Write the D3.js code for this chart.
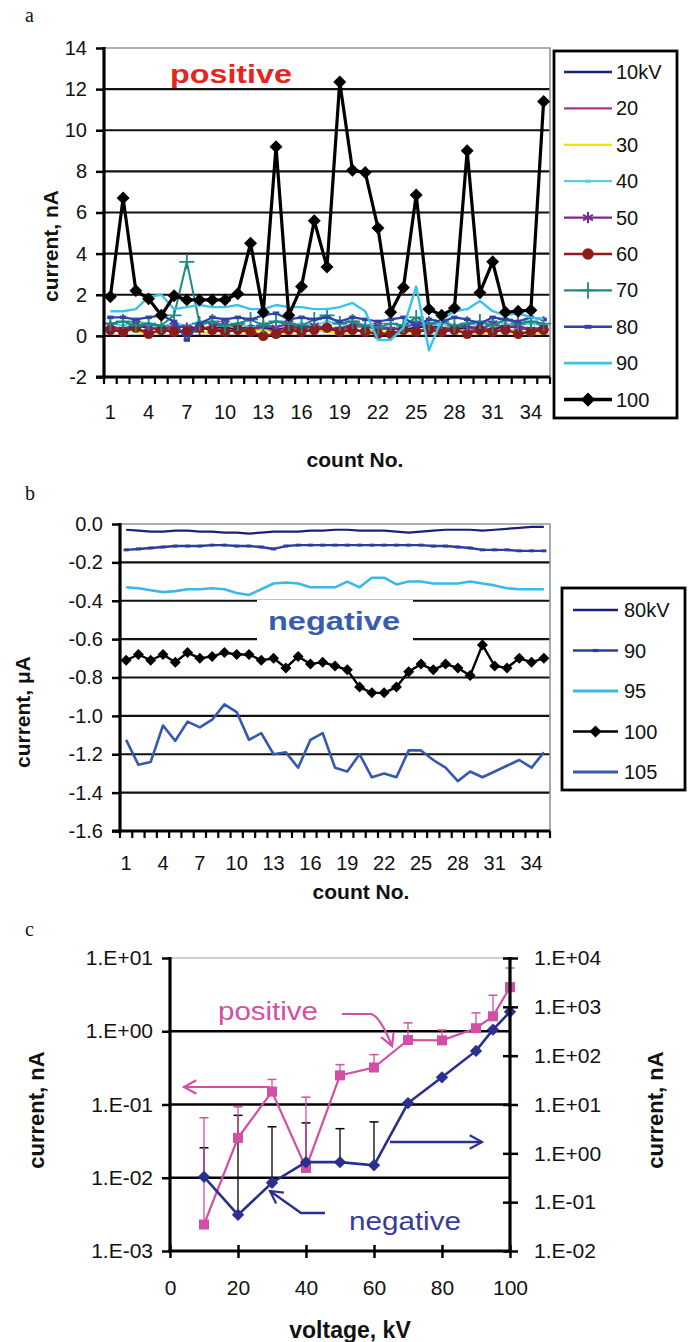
<!DOCTYPE html>
<html><head><meta charset="utf-8">
<script src="https://cdn.jsdelivr.net/npm/d3@7"></script>
<style>
body{margin:0;background:#fff}
svg{display:block}
text{font-family:"Liberation Sans",Arial,Helvetica,sans-serif}
</style>
</head><body>
<svg width="692" height="1342"></svg>
<script>
// ---------------- DATA ----------------
const counts = [1,2,3,4,5,6,7,8,9,10,11,12,13,14,15,16,17,18,19,20,21,22,23,24,25,26,27,28,29,30,31,32,33,34,35];
const countTickLabels = [1,4,7,10,13,16,19,22,25,28,31,34];

// panel a (positive)
const aYTicks = [-2,0,2,4,6,8,10,12,14];
const aNames = ["10kV","20","30","40","50","60","70","80","90","100"];
const a10  = [0.4,0.3,0.5,0.4,0.3,0.4,0.5,0.3,0.4,0.4,0.3,0.5,0.4,0.3,0.4,0.5,0.4,0.3,0.4,0.4,0.5,0.3,0.4,0.3,0.4,0.5,0.4,0.3,0.4,0.4,0.3,0.5,0.4,0.3,0.4];
const a20  = [0.3,0.4,0.2,0.3,0.4,0.3,0.2,0.4,0.3,0.3,0.2,0.4,0.3,0.2,0.4,0.3,0.3,0.2,0.4,0.3,0.2,0.3,0.4,0.3,0.2,0.4,0.3,0.3,0.2,0.4,0.3,0.2,0.3,0.4,0.3];
const a30  = [0.2,0.3,0.2,0.1,0.2,0.3,0.2,0.2,0.1,0.3,0.2,0.2,0.3,0.1,0.2,0.2,0.3,0.2,0.1,0.2,0.3,0.2,0.2,0.1,0.3,0.2,0.2,0.3,0.2,0.1,0.2,0.3,0.2,0.2,0.1];
const a40  = [0.6,0.5,0.7,0.6,0.4,0.6,0.5,0.7,0.6,0.5,0.6,0.4,0.6,0.7,0.5,0.6,0.5,0.7,0.6,0.4,0.5,0.6,0.3,0.5,0.7,0.5,0.6,0.4,0.6,0.5,0.7,0.6,0.5,0.6,0.5];
const a50  = [0.5,0.3,0.6,0.4,0.3,0.5,0.4,0.3,0.5,0.6,0.4,0.3,0.5,0.4,0.6,0.3,0.5,0.4,0.3,0.6,0.4,0.5,0.3,0.4,0.6,0.5,0.3,0.4,0.5,0.3,0.6,0.4,0.5,0.3,0.4];
const a60  = [0.3,0.2,0.4,0.1,0.3,0.2,0.2,0.4,0.3,0.2,0.3,0.2,0.0,0.1,0.3,0.2,0.3,0.4,0.2,0.3,0.2,0.1,0.1,0.3,0.2,0.3,0.2,0.3,0.1,0.3,0.2,0.3,0.1,0.2,0.3];
const a70  = [0.6,0.7,0.5,0.6,0.5,1.0,3.6,0.6,0.7,0.5,0.6,0.8,0.5,0.7,0.6,0.5,0.8,1.0,0.6,0.7,0.5,0.4,0.6,0.5,0.9,0.6,0.7,0.5,0.6,0.7,0.5,0.8,0.6,0.7,0.6];
const a80  = [0.9,0.9,0.8,0.9,1.0,0.7,-0.2,0.6,0.9,0.8,0.9,0.8,1.0,1.1,0.8,0.9,0.8,0.9,0.7,0.9,0.8,0.7,0.8,0.9,0.5,0.8,0.7,0.9,0.8,0.6,0.9,0.8,0.7,0.9,0.8];
const a90  = [1.2,1.2,1.3,1.9,2.0,1.3,1.4,1.5,1.4,1.4,1.5,1.3,1.3,1.5,1.4,1.4,1.3,1.3,1.4,1.6,1.2,-0.2,-0.2,0.4,2.4,-0.7,0.8,1.2,1.3,1.7,1.2,1.0,1.1,0.9,0.8];
const a100 = [1.9,6.7,2.2,1.8,1.0,1.95,1.75,1.75,1.75,1.75,2.05,4.5,1.15,9.2,1.0,2.4,5.6,3.35,12.35,8.05,7.95,5.25,1.15,2.35,6.85,1.3,1.0,1.35,9.0,2.1,3.6,1.15,1.2,1.25,11.4];

// panel b (negative)
const bYTicks = [0,-0.2,-0.4,-0.6,-0.8,-1.0,-1.2,-1.4,-1.6];
const bNames = ["80kV","90","95","100","105"];
const b80  = [-0.03,-0.035,-0.04,-0.04,-0.035,-0.035,-0.04,-0.04,-0.045,-0.045,-0.05,-0.045,-0.04,-0.04,-0.04,-0.035,-0.035,-0.03,-0.03,-0.035,-0.035,-0.035,-0.04,-0.045,-0.04,-0.035,-0.03,-0.03,-0.03,-0.035,-0.03,-0.025,-0.02,-0.015,-0.015];
const b90  = [-0.135,-0.13,-0.125,-0.12,-0.115,-0.115,-0.115,-0.11,-0.11,-0.115,-0.115,-0.12,-0.13,-0.115,-0.11,-0.11,-0.11,-0.11,-0.11,-0.11,-0.11,-0.11,-0.11,-0.11,-0.11,-0.115,-0.115,-0.12,-0.125,-0.135,-0.135,-0.135,-0.14,-0.14,-0.14];
const b95  = [-0.33,-0.335,-0.345,-0.355,-0.35,-0.34,-0.34,-0.335,-0.34,-0.36,-0.37,-0.34,-0.31,-0.305,-0.31,-0.33,-0.33,-0.33,-0.30,-0.33,-0.28,-0.28,-0.315,-0.30,-0.30,-0.31,-0.31,-0.31,-0.30,-0.31,-0.32,-0.335,-0.34,-0.34,-0.34];
const b100 = [-0.71,-0.68,-0.71,-0.68,-0.72,-0.67,-0.70,-0.69,-0.67,-0.68,-0.68,-0.71,-0.70,-0.75,-0.69,-0.73,-0.72,-0.74,-0.76,-0.85,-0.88,-0.88,-0.85,-0.77,-0.73,-0.76,-0.73,-0.75,-0.79,-0.63,-0.74,-0.75,-0.70,-0.72,-0.70];
const b105 = [-1.125,-1.255,-1.24,-1.05,-1.13,-1.03,-1.06,-1.02,-0.94,-0.98,-1.125,-1.09,-1.2,-1.19,-1.27,-1.125,-1.09,-1.27,-1.29,-1.2,-1.32,-1.30,-1.32,-1.18,-1.18,-1.23,-1.27,-1.34,-1.29,-1.32,-1.29,-1.26,-1.23,-1.27,-1.19];

// panel c (current vs voltage)
const cVoltage = [10,20,30,40,50,60,70,80,90,95,100];
const cXTicks = [0,20,40,60,80,100];
const cLeftTicks = [1e-3,1e-2,1e-1,1e0,1e1];
const cRightTicks = [1e-2,1e-1,1e0,1e1,1e2,1e3,1e4];
const cPositive    = [0.0023,0.035,0.15,0.0136,0.25,0.32,0.76,0.75,1.1,1.6,4.0];
const cPositiveErr = [0.066,0.093,0.22,0.126,0.35,0.48,1.3,1.04,1.78,3.1,7.3];
const cNegative    = [0.33,0.055,0.25,0.66,0.66,0.57,10.7,36,125,340,790];
const cNegativeErr = [1.3,6,3.5,4.2,3.2,4.4,null,null,null,null,null];

// ---------------- DRAW ----------------
const svg = d3.select("svg");
const tickFont = 20;

function marker(g, type, x, y, color, scale) {
  const s = scale || 1;
  if (!type) return;
  if (type === "diamond") {
    g.append("path").attr("d", d3.symbol(d3.symbolSquare, 84 * s * s)())
      .attr("transform", `translate(${x},${y}) rotate(45)`).attr("fill", color);
  } else if (type === "circle") {
    g.append("circle").attr("cx", x).attr("cy", y).attr("r", 5.2 * s).attr("fill", color);
  } else if (type === "asterisk") {
    const sym = d3.symbolAsterisk || d3.symbolCross;
    g.append("path").attr("d", d3.symbol(sym, 75 * s * s)())
      .attr("transform", `translate(${x},${y})`).attr("fill", "none").attr("stroke", color).attr("stroke-width", 2);
  } else if (type === "plus") {
    const sym = d3.symbolPlus || d3.symbolCross;
    g.append("path").attr("d", d3.symbol(sym, 75 * s * s)())
      .attr("transform", `translate(${x},${y})`).attr("fill", "none").attr("stroke", color).attr("stroke-width", 1.8);
  } else if (type === "dash") {
    g.append("rect").attr("x", x - 3.2 * s).attr("y", y - 1.8 * s).attr("width", 6.4 * s).attr("height", 3.6 * s).attr("fill", color);
  } else if (type === "square") {
    g.append("rect").attr("x", x - 5 * s).attr("y", y - 5 * s).attr("width", 10 * s).attr("height", 10 * s).attr("fill", color);
  }
}

function categoryPanel(opt) {
  const g = svg.append("g");
  const x = d3.scaleBand().domain(counts).range([opt.left, opt.right]);
  const y = d3.scaleLinear().domain(opt.yDomain).range([opt.bottom, opt.top]);
  const cx = c => x(c) + x.bandwidth() / 2;
  opt.yTicks.forEach(v => {
    if (v === opt.yDomain[0] || v === opt.yDomain[1]) return;
    g.append("line").attr("x1", opt.left).attr("x2", opt.right).attr("y1", y(v)).attr("y2", y(v))
      .attr("stroke", "#111").attr("stroke-width", 2.2);
  });
  g.append("path").attr("d", `M${opt.left},${y(opt.yDomain[1])}H${opt.right}V${opt.bottom}`)
    .attr("fill", "none").attr("stroke", "#8c9696").attr("stroke-width", 1.6);
  opt.extraBack && opt.extraBack(g, x, y);
  opt.series.forEach(s => {
    const line = d3.line().x((d, i) => cx(counts[i])).y(d => y(d));
    g.append("path").attr("d", line(s.values)).attr("fill", "none")
      .attr("stroke", s.color).attr("stroke-width", s.width).attr("stroke-linejoin", "round");
    if (s.marker) s.values.forEach((v, i) => marker(g, s.marker, cx(counts[i]), y(v), s.color, s.mscale));
  });
  const ya = d3.axisLeft(y).tickValues(opt.yTicks).tickSize(8).tickPadding(9).tickFormat(opt.yFormat);
  const yg = g.append("g").attr("transform", `translate(${opt.left},0)`).call(ya);
  yg.select(".domain").remove();
  yg.selectAll(".tick line").attr("stroke", "#000").attr("stroke-width", 2.5);
  yg.selectAll(".tick text").attr("font-size", tickFont).attr("fill", "#111").attr("font-family", "Liberation Sans, Arial");
  g.append("line").attr("x1", opt.left).attr("x2", opt.left).attr("y1", opt.top - 1).attr("y2", opt.bottom + 1.5)
    .attr("stroke", "#000").attr("stroke-width", 3.2);
  g.append("line").attr("x1", opt.left - 8).attr("x2", opt.right).attr("y1", opt.bottom).attr("y2", opt.bottom)
    .attr("stroke", "#000").attr("stroke-width", 3.2);
  counts.forEach(c => {
    g.append("line").attr("x1", x(c)).attr("x2", x(c)).attr("y1", opt.bottom).attr("y2", opt.bottom + 7)
      .attr("stroke", "#000").attr("stroke-width", 2.2);
  });
  g.append("line").attr("x1", opt.right).attr("x2", opt.right).attr("y1", opt.bottom).attr("y2", opt.bottom + 7)
    .attr("stroke", "#000").attr("stroke-width", 2.2);
  const xa = d3.axisBottom(x).tickValues(countTickLabels).tickSize(0).tickPadding(0);
  const xg = g.append("g").attr("transform", `translate(0,${opt.xLabelY})`).call(xa);
  xg.select(".domain").remove();
  xg.selectAll(".tick text").attr("font-size", tickFont).attr("fill", "#111").attr("dy", "0").attr("y", 0)
    .attr("dominant-baseline", "central").attr("font-family", "Liberation Sans, Arial");
  g.append("text").attr("x", opt.xTitle[0]).attr("y", opt.xTitle[1]).attr("text-anchor", "middle")
    .attr("font-size", 21).attr("font-weight", "bold").attr("fill", "#111").text("count No.");
  g.append("text").attr("transform", `translate(${opt.yTitle[0]},${opt.yTitle[1]}) rotate(-90)`)
    .attr("text-anchor", "middle").attr("dominant-baseline", "central")
    .attr("font-size", 21).attr("font-weight", "bold").attr("fill", "#111").text(opt.yTitleText);
  const L = opt.legend;
  g.append("rect").attr("x", L.x).attr("y", L.y).attr("width", L.w).attr("height", L.h)
    .attr("fill", "#fff").attr("stroke", "#000").attr("stroke-width", 2.8);
  opt.series.forEach((s, i) => {
    const yy = L.first + i * L.step;
    g.append("line").attr("x1", L.x1).attr("x2", L.x2).attr("y1", yy).attr("y2", yy)
      .attr("stroke", s.color).attr("stroke-width", s.width + 0.3);
    if (s.marker) marker(g, s.marker, (L.x1 + L.x2) / 2, yy, s.color, (s.mscale || 1) * 1.1);
    g.append("text").attr("x", L.tx).attr("y", yy).attr("dominant-baseline", "central")
      .attr("font-size", tickFont).attr("fill", "#111").text(s.name);
  });
  return {g, x, y};
}

// ---- panel a ----
svg.append("text").attr("x", 25).attr("y", 22).attr("font-size", 20).attr("fill", "#111")
  .style("font-family", "'Liberation Serif',serif").text("a");
const aStyle = [
  {color:"#1b1f7a", width:2.2},
  {color:"#a23a8c", width:2},
  {color:"#f0e400", width:2},
  {color:"#62cde0", width:2, marker:"dash", mscale:0.8},
  {color:"#7a2a8e", width:2, marker:"asterisk"},
  {color:"#8c1c1c", width:2.4, marker:"circle"},
  {color:"#1f8a80", width:2, marker:"plus"},
  {color:"#2f44a8", width:2.2, marker:"dash"},
  {color:"#3cc2ee", width:2.4},
  {color:"#000000", width:3.2, marker:"diamond"}
];
const aValues = [a10,a20,a30,a40,a50,a60,a70,a80,a90,a100];
categoryPanel({
  left:104, right:550, top:48, bottom:377, yDomain:[-2,14], yTicks:aYTicks,
  yFormat: d => String(d), xLabelY:412, xTitle:[355,467], yTitle:[50,246], yTitleText:"current, nA",
  series: aNames.map((n,i) => Object.assign({name:n, values:aValues[i]}, aStyle[i])),
  legend:{x:554, y:51, w:123, h:367, first:72, step:36.4, x1:564, x2:612, tx:616},
  extraBack: (g) => {
    g.append("text").attr("x", 170).attr("y", 83).attr("font-size", 26).attr("font-weight", "bold")
      .attr("fill", "#e5261e").attr("textLength", 122).attr("lengthAdjust", "spacingAndGlyphs").text("positive");
  }
});

// ---- panel b ----
svg.append("text").attr("x", 25).attr("y", 500).attr("font-size", 20).attr("fill", "#111")
  .style("font-family", "'Liberation Serif',serif").text("b");
const bStyle = [
  {color:"#1b1f7a", width:2.2},
  {color:"#2c3e9c", width:2.4, marker:"dash", mscale:0.8},
  {color:"#3ab8ea", width:2.6},
  {color:"#000000", width:2.4, marker:"diamond", mscale:0.85},
  {color:"#3559b0", width:2.6}
];
const bValues = [b80,b90,b95,b100,b105];
categoryPanel({
  left:120, right:550, top:524, bottom:831, yDomain:[-1.6,0], yTicks:bYTicks,
  yFormat: d => d.toFixed(1), xLabelY:863, xTitle:[361,899], yTitle:[22,712], yTitleText:"current, \u03bcA",
  series: bNames.map((n,i) => Object.assign({name:n, values:bValues[i]}, bStyle[i])),
  legend:{x:562, y:588, w:123, h:202, first:610, step:40.5, x1:573, x2:618, tx:624},
  extraBack: (g) => {
    g.append("rect").attr("x", 257).attr("y", 600).attr("width", 156).attr("height", 44).attr("fill", "#fff");
    g.append("text").attr("x", 268).attr("y", 630).attr("font-size", 26).attr("font-weight", "bold")
      .attr("fill", "#3a5cb0").attr("textLength", 132).attr("lengthAdjust", "spacingAndGlyphs").text("negative");
  }
});

// ---- panel c ----
svg.append("text").attr("x", 25).attr("y", 936).attr("font-size", 20).attr("fill", "#111")
  .style("font-family", "'Liberation Serif',serif").text("c");
const cg = svg.append("g");
const cx = d3.scaleLinear().domain([0,100]).range([170,510]);
const cyL = d3.scaleLog().domain([1e-3,1e1]).range([1251,958]);
const cyR = d3.scaleLog().domain([1e-2,1e4]).range([1251,958]);
const expFmt = v => { const e = Math.round(Math.log10(v)); return "1.E" + (e < 0 ? "-" : "+") + String(Math.abs(e)).padStart(2, "0"); };
const pink = "#d24fa5", navy = "#2b2f8e";

[1e-2,1e-1,1e0].forEach(v => {
  cg.append("line").attr("x1", 170).attr("x2", 510).attr("y1", cyL(v)).attr("y2", cyL(v))
    .attr("stroke", "#000").attr("stroke-width", 2.6);
});
cg.append("line").attr("x1", 170).attr("x2", 510).attr("y1", cyL(1e1)).attr("y2", cyL(1e1))
  .attr("stroke", "#9aa0a0").attr("stroke-width", 1.2);

function errBars(vals, errs, scale, color) {
  vals.forEach((v, i) => {
    if (errs[i] == null) return;
    const xx = cx(cVoltage[i]);
    cg.append("line").attr("x1", xx).attr("x2", xx).attr("y1", scale(v)).attr("y2", scale(errs[i]))
      .attr("stroke", color).attr("stroke-width", 1.3);
    cg.append("line").attr("x1", xx - 4.5).attr("x2", xx + 4.5).attr("y1", scale(errs[i])).attr("y2", scale(errs[i]))
      .attr("stroke", color).attr("stroke-width", 1.5);
  });
}
errBars(cNegative, cNegativeErr, cyR, "#000");
errBars(cPositive, cPositiveErr, cyL, pink);

const posLine = d3.line().x((d,i) => cx(cVoltage[i])).y(d => cyL(d));
cg.append("path").attr("d", posLine(cPositive)).attr("fill", "none").attr("stroke", pink).attr("stroke-width", 2.2);
cPositive.forEach((v,i) => marker(cg, "square", cx(cVoltage[i]), cyL(v), pink, 1));
const negLine = d3.line().x((d,i) => cx(cVoltage[i])).y(d => cyR(d));
cg.append("path").attr("d", negLine(cNegative)).attr("fill", "none").attr("stroke", navy).attr("stroke-width", 2.6);
cNegative.forEach((v,i) => marker(cg, "diamond", cx(cVoltage[i]), cyR(v), navy, 0.95));

function arrowHead(g, x, y, angle, color) {
  const len = 14, spread = 0.5;
  const p1 = [x - len * Math.cos(angle - spread), y - len * Math.sin(angle - spread)];
  const p2 = [x - len * Math.cos(angle + spread), y - len * Math.sin(angle + spread)];
  g.append("path").attr("d", `M${p1[0]},${p1[1]}L${x},${y}L${p2[0]},${p2[1]}`)
    .attr("fill", "none").attr("stroke", color).attr("stroke-width", 2.2);
}
cg.append("text").attr("x", 218).attr("y", 1020).attr("font-size", 25).attr("fill", pink)
  .attr("textLength", 100).attr("lengthAdjust", "spacingAndGlyphs").text("positive");
cg.append("path").attr("d", "M342,1014H371Q380,1016 392,1046").attr("fill", "none").attr("stroke", pink).attr("stroke-width", 2.2);
arrowHead(cg, 392, 1046, Math.atan2(30, 12), pink);
cg.append("path").attr("d", "M270,1087H184").attr("fill", "none").attr("stroke", pink).attr("stroke-width", 2.2);
arrowHead(cg, 184, 1087, Math.PI, pink);
cg.append("path").attr("d", "M390,1142H482").attr("fill", "none").attr("stroke", navy).attr("stroke-width", 2.4);
arrowHead(cg, 482, 1142, 0, navy);
cg.append("path").attr("d", "M325,1213H301L270,1191").attr("fill", "none").attr("stroke", navy).attr("stroke-width", 2.4);
arrowHead(cg, 270, 1191, Math.atan2(-22, -31), navy);
cg.append("text").attr("x", 349).attr("y", 1230).attr("font-size", 25).attr("fill", "#373c98")
  .attr("textLength", 112).attr("lengthAdjust", "spacingAndGlyphs").text("negative");

const la = d3.axisLeft(cyL).tickValues(cLeftTicks).tickSize(8).tickPadding(9).tickFormat(expFmt);
const lg = cg.append("g").attr("transform", "translate(170,0)").call(la);
lg.select(".domain").remove();
lg.selectAll(".tick line").attr("stroke", "#000").attr("stroke-width", 2.5);
lg.selectAll(".tick text").attr("font-size", 21).attr("fill", "#111").attr("font-family", "Liberation Sans, Arial");
const ra = d3.axisRight(cyR).tickValues(cRightTicks).tickSize(8).tickPadding(16).tickFormat(expFmt);
const rg = cg.append("g").attr("transform", "translate(510,0)").call(ra);
rg.select(".domain").remove();
rg.selectAll(".tick line").attr("stroke", "#000").attr("stroke-width", 2.5).attr("x1", -7);
rg.selectAll(".tick text").attr("font-size", 21).attr("fill", "#111").attr("font-family", "Liberation Sans, Arial");
const ba = d3.axisBottom(cx).tickValues(cXTicks).tickSize(7).tickPadding(22);
const bg = cg.append("g").attr("transform", "translate(0,1251)").call(ba);
bg.select(".domain").remove();
bg.selectAll(".tick line").attr("stroke", "#000").attr("stroke-width", 2.5).attr("y1", -6);
bg.selectAll(".tick text").attr("font-size", 21).attr("fill", "#111").attr("font-family", "Liberation Sans, Arial");
cg.append("line").attr("x1", 170).attr("x2", 170).attr("y1", 957).attr("y2", 1252.5).attr("stroke", "#000").attr("stroke-width", 3.2);
cg.append("line").attr("x1", 510).attr("x2", 510).attr("y1", 957).attr("y2", 1252.5).attr("stroke", "#000").attr("stroke-width", 3.2);
cg.append("line").attr("x1", 168.5).attr("x2", 511.5).attr("y1", 1251).attr("y2", 1251).attr("stroke", "#000").attr("stroke-width", 3.2);
cg.append("text").attr("x", 350).attr("y", 1338).attr("text-anchor", "middle").attr("font-size", 23)
  .attr("font-weight", "bold").attr("fill", "#111").text("voltage, kV");
cg.append("text").attr("transform", "translate(36,1110) rotate(-90)").attr("text-anchor", "middle")
  .attr("dominant-baseline", "central").attr("font-size", 22).attr("font-weight", "bold").attr("fill", "#111").text("current, nA");
cg.append("text").attr("transform", "translate(655,1110) rotate(-90)").attr("text-anchor", "middle")
  .attr("dominant-baseline", "central").attr("font-size", 22).attr("font-weight", "bold").attr("fill", "#111").text("current, nA");
</script>
</body></html>
